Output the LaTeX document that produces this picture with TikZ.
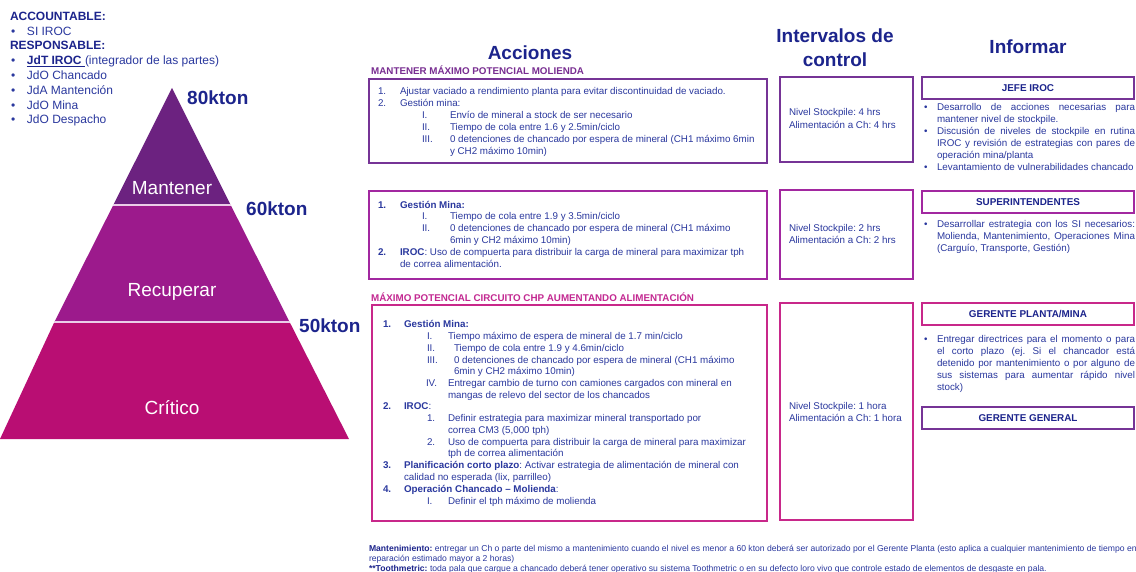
\documentclass[tikz,border=0pt]{standalone}
\usepackage{fontspec}
\setmainfont{Liberation Sans}
\frenchspacing
\definecolor{navy}{RGB}{28,36,140}
\definecolor{tblue}{RGB}{42,56,158}
\definecolor{bA}{RGB}{118,52,150}
\definecolor{bB}{RGB}{162,40,160}
\definecolor{bC}{RGB}{200,40,138}
\definecolor{pyrA}{RGB}{108,34,128}
\definecolor{pyrB}{RGB}{156,26,140}
\definecolor{pyrC}{RGB}{185,14,115}
\definecolor{capA}{RGB}{120,45,145}
\definecolor{capC}{RGB}{195,40,145}
\definecolor{divl}{RGB}{235,205,232}
\newcounter{nd}
\newcommand\Tx[3]{\stepcounter{nd}\node[tx] (t\arabic{nd}) at (#1,#2) {#3};}
\newcommand\Bu[2]{\stepcounter{nd}\node[tx] (t\arabic{nd}) at (#1,#2) {•};}
\newcommand\Par[3]{\stepcounter{nd}\node[tx] (t\arabic{nd}) at (#1,#2) {\parbox[t]{198pt}{\fontsize{9.8}{12}\selectfont\frenchspacing\hbadness=10000\hfuzz=20pt #3}};}
\tikzset{
  tx/.style={anchor=base west, inner sep=0, outer sep=0, text=tblue, font=\fontsize{9.8}{12}\selectfont},
  tl/.style={tx, font=\fontsize{12}{14}\selectfont},
  big/.style={inner sep=0, text=navy, font=\fontsize{19}{22}\selectfont\bfseries},
  pyr/.style={inner sep=0, text=white, font=\fontsize{19}{22}\selectfont},
  captxt/.style={anchor=west, inner sep=0, font=\fontsize{9.8}{11}\selectfont\bfseries},
  abox/.style={draw, line width=1.8pt, anchor=north west, inner sep=0, outer sep=0},
  hbox/.style={draw, line width=1.6pt, anchor=north west, inner sep=0, outer sep=0,
     minimum width=212pt, minimum height=22pt, text=navy, font=\fontsize{9.9}{11}\selectfont\bfseries},
  ft/.style={tx, font=\fontsize{8.6}{9}\selectfont},
}
\begin{document}
\begin{tikzpicture}[x=1pt,y=-1pt]
\useasboundingbox (0,0) rectangle (1136,572);
\fill[white] (0,0) rectangle (1136,572);

% ---- top-left
\node[tl, text=navy, font=\fontsize{12}{14}\selectfont\bfseries] (acc) at (10,21) {ACCOUNTABLE:};
\stepcounter{nd}\node[tl] (t\arabic{nd}) at (11,36) {•};
\node[tl] (si) at (27,36) {SI IROC};
\node[tl, text=navy, font=\fontsize{12}{14}\selectfont\bfseries] (resp) at (10,50) {RESPONSABLE:};
\stepcounter{nd}\node[tl] (t\arabic{nd}) at (11,65) {•};
\node[tl] (jdt) at (27,65) {\textcolor{navy}{\underline{\textbf{JdT IROC\ }}}(integrador de las partes)};
\stepcounter{nd}\node[tl] (t\arabic{nd}) at (11,80) {•};
\node[tl] (jch) at (27,80) {JdO Chancado};
\stepcounter{nd}\node[tl] (t\arabic{nd}) at (11,95) {•};
\node[tl] (jma) at (27,95) {JdA Mantención};
\stepcounter{nd}\node[tl] (t\arabic{nd}) at (11,110) {•};
\node[tl] (jmi) at (27,110) {JdO Mina};
\stepcounter{nd}\node[tl] (t\arabic{nd}) at (11,124) {•};
\node[tl] (jde) at (27,124) {JdO Despacho};

% ---- pyramid
\fill[pyrA] (172,88) -- (230.7,205) -- (113.3,205) -- cycle;
\fill[pyrB] (113.3,205) -- (230.7,205) -- (289.6,322) -- (54.4,322) -- cycle;
\fill[pyrC] (54.4,322) -- (289.6,322) -- (349,439) -- (0,439) -- cycle;
\draw[line width=1.4pt, divl] (113.3,205) -- (230.7,205);
\draw[line width=1.4pt, divl] (54.4,322) -- (289.6,322);
\node[pyr] (mant) at (172,188) {Mantener};
\node[pyr] (recu) at (172,292) {Recuperar};
\node[pyr] (crit) at (172,408) {Crítico};
\node[big, anchor=west] (k80) at (187,98) {80kton};
\node[big, anchor=west] (k60) at (246,209) {60kton};
\node[big, anchor=west] (k50) at (299,326) {50kton};

% ---- column headings
\node[big] (acciones) at (530,53) {Acciones};
\node[big, align=center, font=\fontsize{19}{24}\selectfont\bfseries] (interv) at (835,48) {Intervalos de\\control};
\node[big] (inform) at (1028,47) {Informar};

% ---- Acciones
\node[captxt, text=capA] (cap1) at (371,70) {MANTENER MÁXIMO POTENCIAL MOLIENDA};
\node[abox, draw=bA, minimum width=398pt, minimum height=84pt] (box1) at (369,79) {};
\Tx{378}{95}{1.}\Tx{400}{95}{Ajustar vaciado a rendimiento planta para evitar discontinuidad de vaciado.}
\Tx{378}{107}{2.}\Tx{400}{107}{Gestión mina:}
\Tx{422}{119}{I.}\Tx{450}{119}{Envío de mineral a stock de ser necesario}
\Tx{422}{131}{II.}\Tx{450}{131}{Tiempo de cola entre 1.6 y 2.5min/ciclo}
\Tx{422}{143}{III.}\Tx{450}{143}{0 detenciones de chancado por espera de mineral (CH1 máximo 6min}
\Tx{450}{155}{y CH2 máximo 10min)}

\node[abox, draw=bB, minimum width=398pt, minimum height=88pt] (box2) at (369,191) {};
\Tx{378}{209}{\textbf{1.}}\Tx{400}{209}{\textbf{Gestión Mina:}}
\Tx{422}{220}{I.}\Tx{450}{220}{Tiempo de cola entre 1.9 y 3.5min/ciclo}
\Tx{422}{232}{II.}\Tx{450}{232}{0 detenciones de chancado por espera de mineral (CH1 máximo}
\Tx{450}{244}{6min y CH2 máximo 10min)}
\Tx{378}{256}{\textbf{2.}}\Tx{400}{256}{\textbf{IROC}: Uso de compuerta para distribuir la carga de mineral para maximizar tph}
\Tx{400}{268}{de correa alimentación.}

\node[captxt, text=capC] (cap2) at (371,297) {MÁXIMO POTENCIAL CIRCUITO CHP AUMENTANDO ALIMENTACIÓN};
\node[abox, draw=bC, minimum width=395pt, minimum height=216pt] (box3) at (372,305) {};
\Tx{383}{327}{\textbf{1.}}\Tx{404}{327}{\textbf{Gestión Mina:}}
\Tx{427}{339}{I.}\Tx{448}{339}{Tiempo máximo de espera de mineral de 1.7 min/ciclo}
\Tx{427}{351}{II.}\Tx{454}{351}{Tiempo de cola entre 1.9 y 4.6min/ciclo}
\Tx{427}{363}{III.}\Tx{454}{363}{0 detenciones de chancado por espera de mineral (CH1 máximo}
\Tx{454}{374}{6min y CH2 máximo 10min)}
\Tx{426}{386}{IV.}\Tx{448}{386}{Entregar cambio de turno con camiones cargados con mineral en}
\Tx{448}{398}{mangas de relevo del sector de los chancados}
\Tx{383}{409}{\textbf{2.}}\Tx{404}{409}{\textbf{IROC}:}
\Tx{427}{421}{1.}\Tx{448}{421}{Definir estrategia para maximizar mineral transportado por}
\Tx{448}{433}{correa CM3 (5,000 tph)}
\Tx{427}{445}{2.}\Tx{448}{445}{Uso de compuerta para distribuir la carga de mineral para maximizar}
\Tx{448}{456}{tph de correa alimentación}
\Tx{383}{468}{\textbf{3.}}\Tx{404}{468}{\textbf{Planificación corto plazo}: Activar estrategia de alimentación de mineral con}
\Tx{404}{480}{calidad no esperada (lix, parrilleo)}
\Tx{383}{492}{\textbf{4.}}\Tx{404}{492}{\textbf{Operación Chancado – Molienda}:}
\Tx{427}{504}{I.}\Tx{448}{504}{Definir el tph máximo de molienda}

% ---- Intervalos de control
\node[abox, draw=bA, minimum width=133pt, minimum height=85pt] (cbox1) at (780,77) {};
\Tx{789}{116}{Nivel Stockpile: 4 hrs}\Tx{789}{129}{Alimentación a Ch: 4 hrs}
\node[abox, draw=bB, minimum width=133pt, minimum height=89pt] (cbox2) at (780,190) {};
\Tx{789}{232}{Nivel Stockpile: 2 hrs}\Tx{789}{244}{Alimentación a Ch: 2 hrs}
\node[abox, draw=bC, minimum width=133pt, minimum height=217pt] (cbox3) at (780,303) {};
\Tx{789}{409}{Nivel Stockpile: 1 hora}\Tx{789}{421}{Alimentación a Ch: 1 hora}

% ---- Informar
\node[hbox, draw=bA] (jefe) at (922,77) {JEFE IROC};
\Bu{924}{111}\Par{937}{111}{Desarrollo de acciones necesarias para\linebreak mantener nivel de stockpile.}
\Bu{924}{135}\Par{937}{135}{Discusión de niveles de stockpile en rutina\linebreak IROC y revisión de estrategias con pares de\linebreak operación mina/planta}
\Bu{924}{171}\Par{937}{171}{Levantamiento de vulnerabilidades chancado}
\node[hbox, draw=bB] (super) at (922,191) {SUPERINTENDENTES};
\Bu{924}{228}\Par{937}{228}{Desarrollar estrategia con los SI necesarios:\linebreak Molienda, Mantenimiento, Operaciones Mina\linebreak (Carguío, Transporte, Gestión)}
\node[hbox, draw=bC] (gpm) at (922,303) {GERENTE PLANTA/MINA};
\Bu{924}{342}\Par{937}{342}{Entregar directrices para el momento o para\linebreak el corto plazo (ej. Si el chancador está\linebreak detenido por mantenimiento o por alguno de\linebreak sus sistemas para aumentar rápido nivel\linebreak stock)}
\node[hbox, draw=bA] (gg) at (922,407) {GERENTE GENERAL};

% ---- footer
\node[ft] (f1) at (369,551) {\textcolor{navy}{\textbf{Mantenimiento:}} entregar un Ch o parte del mismo a mantenimiento cuando el nivel es menor a 60 kton deberá ser autorizado por el Gerente Planta (esto aplica a cualquier mantenimiento de tiempo en};
\node[ft] (f2) at (369,561.5) {reparación estimado mayor a 2 horas)};
\node[ft] (f3) at (369,571) {\textcolor{navy}{\textbf{**Toothmetric:}} toda pala que cargue a chancado deberá tener operativo su sistema Toothmetric o en su defecto loro vivo que controle estado de elementos de desgaste en pala.};
\end{tikzpicture}
\end{document}
